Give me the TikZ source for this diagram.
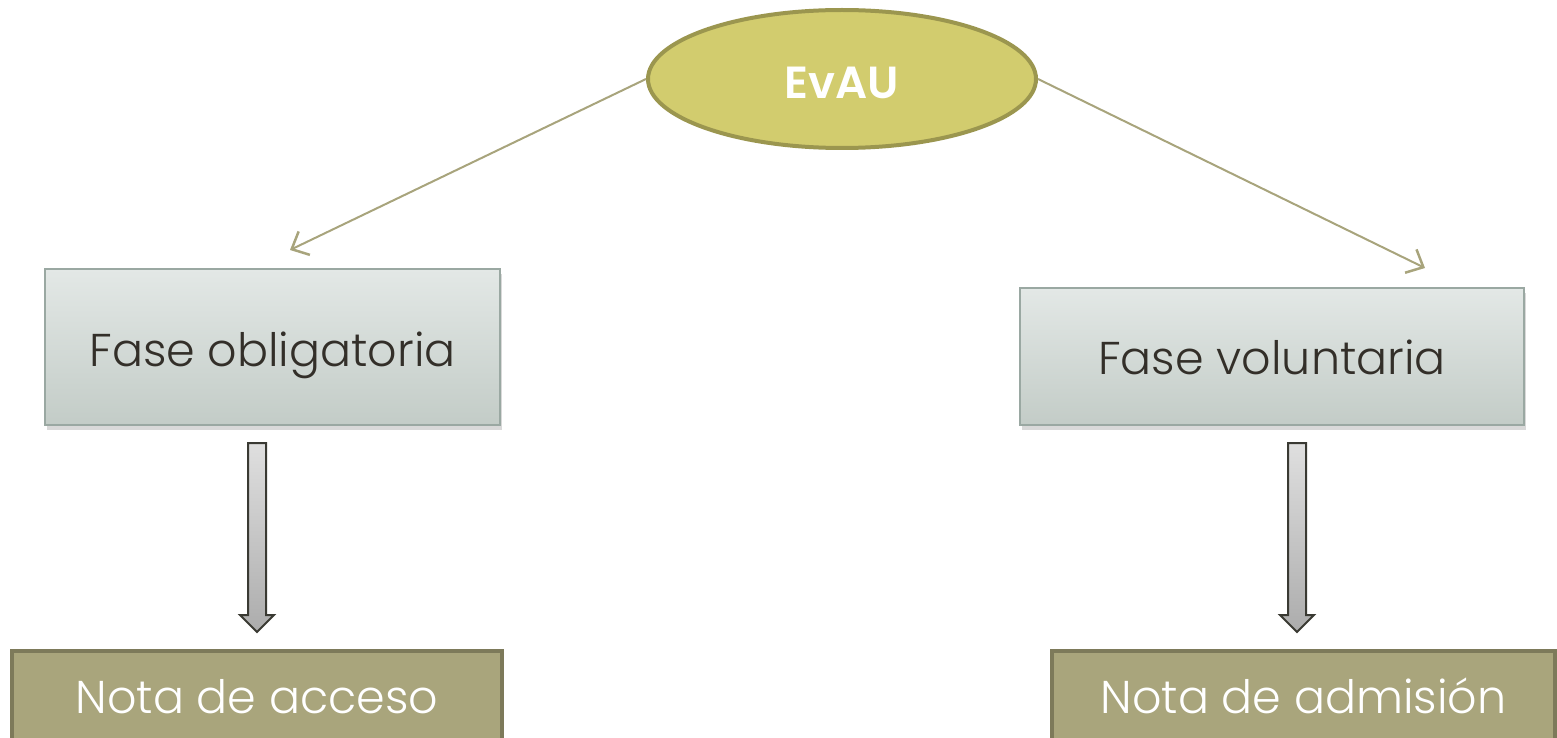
\documentclass[tikz,border=0pt]{standalone}
\usepackage{fontspec}
\setmainfont{Poppins}[UprightFont=* Light, BoldFont=* SemiBold]
\usetikzlibrary{shapes.geometric,arrows.meta,shadows}
\definecolor{ellfill}{HTML}{D2CC6E}
\definecolor{elldraw}{HTML}{9B964F}
\definecolor{linkcol}{HTML}{A8A47C}
\definecolor{boxtop}{HTML}{E3E8E6}
\definecolor{boxbot}{HTML}{C3CCC7}
\definecolor{boxdraw}{HTML}{9AA8A2}
\definecolor{txtdark}{HTML}{332F29}
\definecolor{notefill}{HTML}{A9A57C}
\definecolor{notedraw}{HTML}{7D7A5A}
\definecolor{arrdraw}{HTML}{3A3A33}
\newcommand{\atbase}[2]{\raisebox{#1}[0pt][0pt]{#2}}
\tikzset{
  ellnode/.style={ellipse, fill=ellfill, draw=elldraw, line width=4pt, minimum width=388pt, minimum height=138pt, inner sep=0pt, text=white, font=\fontsize{45}{50}\selectfont\bfseries},
  phasebox/.style={rectangle, draw=boxdraw, line width=1.2pt, top color=boxtop, bottom color=boxbot, inner sep=0pt, text=txtdark, font=\fontsize{46}{50}\selectfont, drop shadow={shadow xshift=2pt, shadow yshift=-5pt, opacity=0.3}},
  notebox/.style={rectangle, draw=notedraw, fill=notefill, line width=4.5pt, inner sep=0pt, text=white, font=\fontsize{46}{50}\selectfont},
  link/.style={draw=linkcol, line width=2pt, -{Straight Barb[length=14pt,width=26pt,line width=2.5pt]}},
  blockarrow/.style={draw=arrdraw, line width=2pt, top color=gray!25, bottom color=gray!65}
}
\begin{document}
\begin{tikzpicture}[x=1pt,y=-1pt]
\useasboundingbox (0,0) rectangle (1557,738);
\node[ellnode] (evau) at (842,79) {\atbase{-20pt}{EvAU}};
\node[phasebox, minimum width=455pt, minimum height=156pt] (obl) at (272.5,347) {\atbase{-19pt}{Fase obligatoria}};
\node[phasebox, minimum width=504pt, minimum height=137pt] (vol) at (1272,356.5) {\atbase{-18pt}{Fase voluntaria}};
\node[notebox, minimum width=490pt, minimum height=100pt] (acc) at (257,701) {\atbase{-12pt}{Nota de acceso}};
\node[notebox, minimum width=503pt, minimum height=100pt] (adm) at (1303.5,701) {\atbase{-12pt}{Nota de admisión}};
\coordinate (lt) at (290,250);
\coordinate (rt) at (1425,268);
\draw[link] (evau.west) -- (lt);
\draw[link] (evau.east) -- (rt);
% block arrows
\path[blockarrow] (248,443) -- (266,443) -- (266,615) -- (274,615) -- (257,632) -- (240,615) -- (248,615) -- cycle;
\path[blockarrow] (1288,443) -- (1306,443) -- (1306,615) -- (1314,615) -- (1297,632) -- (1280,615) -- (1288,615) -- cycle;
\end{tikzpicture}
\end{document}
